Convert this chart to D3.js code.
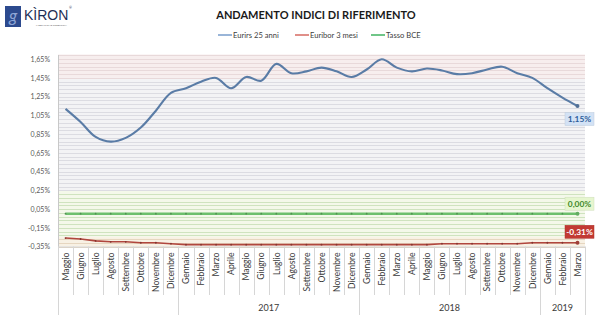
<!DOCTYPE html>
<html>
<head>
<meta charset="utf-8">
<script src="https://cdn.jsdelivr.net/npm/d3@7"></script>
<style>
  html, body { margin: 0; padding: 0; background: #ffffff; }
  svg { display: block; font-family: Lato, "Open Sans", "Liberation Sans", Arial, sans-serif; }
</style>
</head>
<body>
<svg id="chart" width="600" height="323"></svg>
<script>
// Months from May 2016 to March 2019
const months = ["Maggio","Giugno","Luglio","Agosto","Settembre","Ottobre","Novembre","Dicembre",
  "Gennaio","Febbraio","Marzo","Aprile","Maggio","Giugno","Luglio","Agosto","Settembre","Ottobre","Novembre","Dicembre",
  "Gennaio","Febbraio","Marzo","Aprile","Maggio","Giugno","Luglio","Agosto","Settembre","Ottobre","Novembre","Dicembre",
  "Gennaio","Febbraio","Marzo"];
const years = [
  { label: "", from: 0, to: 8 },
  { label: "2017", from: 8, to: 20 },
  { label: "2018", from: 20, to: 32 },
  { label: "2019", from: 32, to: 35 }
];

// Monthly values, %
const eurirs25 = [1.12, 0.98, 0.82, 0.77, 0.81, 0.92, 1.10, 1.29, 1.34, 1.41, 1.45, 1.34, 1.46, 1.42, 1.60, 1.50,
  1.52, 1.56, 1.52, 1.46, 1.54, 1.65, 1.56, 1.52, 1.55, 1.53, 1.49, 1.50, 1.54, 1.57, 1.50, 1.45, 1.34, 1.24, 1.15];
const euribor3m = [-0.26, -0.27, -0.29, -0.30, -0.30, -0.31, -0.31, -0.32, -0.33, -0.33, -0.33, -0.33, -0.33, -0.33,
  -0.33, -0.33, -0.33, -0.33, -0.33, -0.33, -0.33, -0.33, -0.33, -0.33, -0.33, -0.32, -0.32, -0.32, -0.32, -0.32,
  -0.32, -0.31, -0.31, -0.31, -0.31];
const tassoBCE = months.map(() => 0.00);

const yTicks = [-0.35, -0.15, 0.05, 0.25, 0.45, 0.65, 0.85, 1.05, 1.25, 1.45, 1.65];

const series = [
  { name: "Eurirs 25 anni", values: eurirs25, color: "#5a7ca6", legend: "#7fa3cf", width: 2.1, dots: false,
    box: "#d3e2f5", boxText: "#2d5e9c" },
  { name: "Euribor 3 mesi", values: euribor3m, color: "#b0463e", legend: "#d8736b", width: 1.6, dots: true,
    box: "#c23a33", boxText: "#ffffff" },
  { name: "Tasso BCE", values: tassoBCE, color: "#6dbf6d", legend: "#4cb86a", width: 2.4, dots: true,
    box: "#e6f6cf", boxText: "#3f8a2a" }
];

const fmt = v => (v < 0 ? "-" : "") + Math.abs(v).toFixed(2).replace(".", ",") + "%";

const svg = d3.select("#chart");
const plotLeft = 58, plotRight = 585, plotTop = 54.5, plotBottom = 246.5;

const x = d3.scaleBand().domain(d3.range(months.length)).range([plotLeft, plotRight]).paddingInner(0).paddingOuter(0);
const y = d3.scaleLinear().domain([-0.35, 1.70]).range([plotBottom, plotTop]);
const cx = i => x(i) + x.bandwidth() / 2;

// Logo
const logo = svg.append("g");
logo.append("rect").attr("x", 5).attr("y", 6).attr("width", 16).attr("height", 21).attr("fill", "#2c4a8e");
logo.append("text").attr("x", 13).attr("y", 22).attr("text-anchor", "middle")
  .attr("font-size", 17).attr("font-style", "italic").attr("fill", "#8fa6d6").text("g");
logo.append("text").attr("x", 24).attr("y", 20).attr("font-size", 14).attr("fill", "#1f2f55")
  .attr("font-family", "'Liberation Sans', Arial, sans-serif").text("KÌRON");
logo.append("text").attr("x", 69).attr("y", 9).attr("font-size", 3.5).attr("fill", "#1f2f55").text("®");
logo.append("text").attr("x", 36).attr("y", 25.5).attr("font-size", 2.6).attr("fill", "#666").text("MEDIAZIONE CREDITIZIA");

// Title
svg.append("text").attr("x", 316).attr("y", 19).attr("text-anchor", "middle")
  .attr("font-size", 11).attr("font-weight", "bold").attr("fill", "#1a1a1a")
  .text("ANDAMENTO INDICI DI RIFERIMENTO");

// Legend
const legendX = [218, 295, 371];
series.forEach((s, i) => {
  const g = svg.append("g").attr("transform", `translate(${legendX[i]},35)`);
  g.append("line").attr("x1", 0).attr("x2", 14).attr("y1", 0).attr("y2", 0)
    .attr("stroke", s.legend).attr("stroke-width", 1.6);
  g.append("text").attr("x", 15).attr("y", 2.8).attr("font-size", 7.6).attr("fill", "#404040").text(s.name);
});

// Background bands and minor grid lines
const bands = [
  { from: 1.45, to: 1.70, fill: "#f7eeee", line: "#e8d9da" },
  { from: 0.25, to: 1.45, fill: "#f3f3f5", line: "#dcdce2" },
  { from: -0.25, to: 0.25, fill: "#f4f8ea", line: "#cfe3bf" },
  { from: -0.35, to: -0.25, fill: "#f8f1e4", line: "#e6d6c0" }
];
bands.forEach(b => {
  svg.append("rect").attr("x", plotLeft).attr("width", plotRight - plotLeft)
    .attr("y", y(b.to)).attr("height", y(b.from) - y(b.to)).attr("fill", b.fill);
});
const minor = d3.range(0, 52).map(k => -0.35 + k * 0.04).filter(v => v <= 1.70 + 1e-9);
svg.append("g").selectAll("line").data(minor).join("line")
  .attr("x1", plotLeft).attr("x2", plotRight)
  .attr("y1", d => Math.round(y(d)) + 0.5).attr("y2", d => Math.round(y(d)) + 0.5)
  .attr("stroke", d => (bands.find(b => d >= b.from - 1e-9 && d <= b.to + 1e-9) || bands[1]).line)
  .attr("stroke-width", 1);

// Y axis
const yAxis = d3.axisLeft(y).tickValues(yTicks).tickFormat(fmt).tickSize(0).tickPadding(8);
const ya = svg.append("g").attr("transform", `translate(${plotLeft},0)`).call(yAxis);
ya.select(".domain").attr("stroke", "#c8c8c8");
ya.selectAll("text").attr("font-size", 7).attr("fill", "#595959")
  .attr("font-family", "Lato, 'Liberation Sans', Arial, sans-serif");

// X axis: months, separators and years
const xg = svg.append("g");
xg.append("line").attr("x1", plotLeft).attr("x2", plotRight).attr("y1", plotBottom + 0.5).attr("y2", plotBottom + 0.5)
  .attr("stroke", "#d0d0d0");
d3.range(months.length + 1).forEach(i => {
  const xx = Math.round(i < months.length ? x(i) : plotRight) + 0.5;
  const isYear = years.some(yr => yr.from === i || yr.to === i);
  xg.append("line").attr("x1", xx).attr("x2", xx).attr("y1", plotBottom)
    .attr("y2", isYear ? 315 : 295).attr("stroke", "#d6d6d6");
});
xg.selectAll("text.month").data(months).join("text").attr("class", "month")
  .attr("transform", (d, i) => `translate(${cx(i) + 3.2},${plotBottom + 6}) rotate(-90)`)
  .attr("text-anchor", "end").attr("font-size", 8.6).attr("fill", "#3a3a3a").text(d => d);
years.forEach(yr => {
  if (!yr.label) return;
  xg.append("text").attr("x", (x(yr.from) + (yr.to < months.length ? x(yr.to) : plotRight)) / 2)
    .attr("y", 311).attr("text-anchor", "middle").attr("font-size", 9).attr("fill", "#3a3a3a").text(yr.label);
});

// Series lines
series.forEach(s => {
  const line = d3.line().x((d, i) => cx(i)).y(d => y(d))
    .curve(s.dots ? d3.curveLinear : d3.curveCatmullRom.alpha(0.5));
  svg.append("path").datum(s.values).attr("d", line).attr("fill", "none")
    .attr("stroke", s.color).attr("stroke-width", s.width).attr("stroke-linejoin", "round");
  if (s.dots) {
    svg.append("g").selectAll("circle").data(s.values).join("circle")
      .attr("cx", (d, i) => cx(i)).attr("cy", d => y(d)).attr("r", 0.9)
      .attr("fill", d3.color(s.color).darker(0.8));
  }
  // End point marker
  const last = s.values.length - 1;
  svg.append("circle").attr("cx", cx(last)).attr("cy", y(s.values[last])).attr("r", 2)
    .attr("fill", d3.color(s.color).darker(0.3));
});

// Value boxes for the last month
const boxes = [
  { s: series[0], yOff: 13 },
  { s: series[2], yOff: -10 },
  { s: series[1], yOff: -11 }
];
boxes.forEach(b => {
  const v = b.s.values[b.s.values.length - 1];
  const cyv = y(v) + b.yOff;
  const w = 29, h = 13;
  const bx = 565;
  svg.append("rect").attr("x", bx).attr("y", cyv - h / 2).attr("width", w).attr("height", h)
    .attr("fill", b.s.box).attr("stroke", d3.color(b.s.box).darker(0.3)).attr("stroke-width", 0.5);
  svg.append("text").attr("x", bx + w / 2).attr("y", cyv + 3).attr("text-anchor", "middle")
    .attr("font-size", 8.4).attr("font-weight", "bold").attr("fill", b.s.boxText).text(fmt(v));
});
</script>
</body>
</html>
